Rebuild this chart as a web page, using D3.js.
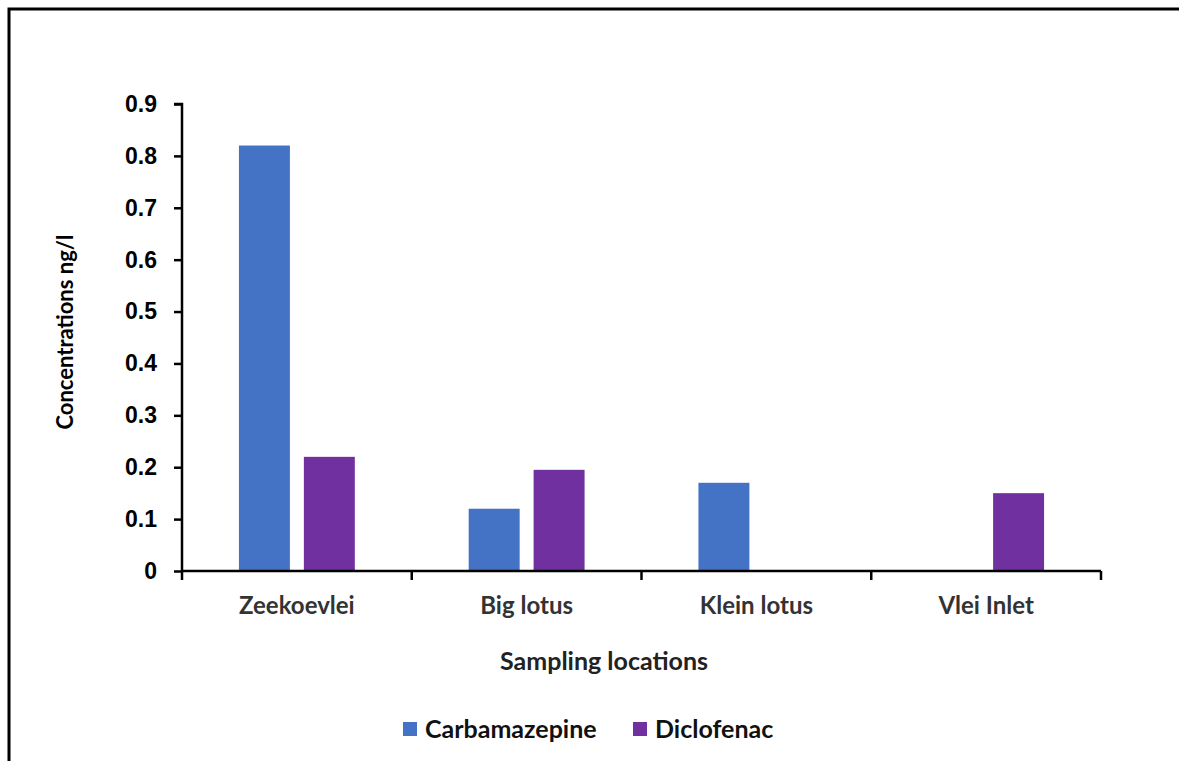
<!DOCTYPE html>
<html>
<head>
  <meta charset="utf-8">
  <title>Concentrations by sampling location</title>
  <style>
    body { margin: 0; padding: 0; background: #fff; font-family: Lato, "Open Sans", sans-serif; }
    #chart { width: 1179px; height: 761px; }
    .axis path, .axis line { stroke: #000; stroke-width: 2.5px; }
    .y-axis text { font-size: 23px; font-weight: bold; fill: #000; }
    .x-axis text { font-size: 24px; font-weight: bold; fill: #333; }
  </style>
</head>
<body>
  <div id="chart"></div>

  <script src="https://cdnjs.cloudflare.com/ajax/libs/d3/7.8.5/d3.min.js"></script>
  <script>
    // data
    var locations = ["Zeekoevlei", "Big lotus", "Klein lotus", "Vlei Inlet"];
    var seriesNames = ["Carbamazepine", "Diclofenac"];
    var carbamazepine = [0.82, 0.12, 0.17, 0];
    var diclofenac = [0.22, 0.195, 0, 0.15];
    var yTicks = [0, 0.1, 0.2, 0.3, 0.4, 0.5, 0.6, 0.7, 0.8, 0.9];
    var colors = ["#4472C4", "#7030A0"];

    var width = 1179, height = 761;
    var margin = { left: 182, right: 78, top: 104, bottom: 190 };

    var svg = d3.select("#chart").append("svg")
      .attr("width", width)
      .attr("height", height);

    // outer frame
    svg.append("rect")
      .attr("x", 9).attr("y", 9)
      .attr("width", width).attr("height", height)
      .attr("fill", "none")
      .attr("stroke", "#000")
      .attr("stroke-width", 3);

    var x = d3.scaleBand()
      .domain(locations)
      .range([margin.left, width - margin.right])
      .paddingInner(0).paddingOuter(0);

    var y = d3.scaleLinear()
      .domain([0, 0.9])
      .range([height - margin.bottom, margin.top]);

    // inner band for the two bars of each group
    var inner = d3.scaleBand()
      .domain(seriesNames)
      .range([0, x.bandwidth()])
      .paddingInner(0.215)
      .paddingOuter(0.877);

    var rows = locations.map(function(loc, i) {
      return { loc: loc, values: [carbamazepine[i], diclofenac[i]] };
    });

    var groups = svg.append("g").selectAll("g")
      .data(rows)
      .enter().append("g")
      .attr("transform", function(d) { return "translate(" + x(d.loc) + ",0)"; });

    groups.selectAll("rect")
      .data(function(d) {
        return d.values.map(function(v, j) { return { name: seriesNames[j], value: v, j: j }; });
      })
      .enter().append("rect")
      .filter(function(d) { return d.value > 0; })
      .attr("x", function(d) { return inner(d.name); })
      .attr("width", inner.bandwidth())
      .attr("y", function(d) { return y(d.value); })
      .attr("height", function(d) { return y(0) - y(d.value); })
      .attr("fill", function(d) { return colors[d.j]; });

    // y axis
    var yAxis = d3.axisLeft(y)
      .tickValues(yTicks)
      .tickSize(8)
      .tickPadding(17)
      .tickFormat(function(d) { return d === 0 ? "0" : d3.format(".1f")(d); });

    svg.append("g")
      .attr("class", "axis y-axis")
      .attr("transform", "translate(" + margin.left + ",0)")
      .call(yAxis)
      .call(function(g) { g.select(".domain").attr("d", "M-8," + y(0.9) + "H0V" + y(0)); });

    // x axis: ticks between categories
    var bounds = locations.map(function(l) { return x(l); }).concat([x.range()[1]]);
    var xg = svg.append("g")
      .attr("class", "axis x-axis")
      .attr("transform", "translate(0," + y(0) + ")");

    xg.append("path")
      .attr("d", "M" + x.range()[0] + ",0H" + x.range()[1])
      .attr("stroke", "#000").attr("stroke-width", 2.5).attr("fill", "none");

    xg.selectAll("line.tk")
      .data(bounds)
      .enter().append("line")
      .attr("class", "tk")
      .attr("x1", function(d) { return d; }).attr("x2", function(d) { return d; })
      .attr("y1", 0).attr("y2", 9);

    xg.selectAll("text")
      .data(locations)
      .enter().append("text")
      .attr("x", function(d) { return x(d) + x.bandwidth() / 2; })
      .attr("y", 43)
      .attr("text-anchor", "middle")
      .text(function(d) { return d; });

    // axis titles
    svg.append("text")
      .attr("transform", "translate(73,332) rotate(-90)")
      .attr("text-anchor", "middle")
      .attr("font-size", 22)
      .attr("font-weight", "bold")
      .attr("fill", "#000")
      .text("Concentrations ng/l");

    svg.append("text")
      .attr("x", 604)
      .attr("y", 670)
      .attr("text-anchor", "middle")
      .attr("font-size", 25)
      .attr("font-weight", "bold")
      .attr("fill", "#222")
      .text("Sampling locations");

    // legend
    var legend = svg.append("g")
      .selectAll("g")
      .data(seriesNames)
      .enter().append("g")
      .attr("transform", function(d, i) { return "translate(" + (403 + i * 230) + ",722)"; });

    legend.append("rect")
      .attr("width", 14).attr("height", 14)
      .attr("fill", function(d, i) { return colors[i]; });

    legend.append("text")
      .attr("x", 22)
      .attr("y", 16)
      .attr("font-size", 25)
      .attr("font-weight", "bold")
      .attr("fill", "#111")
      .text(function(d) { return d; });
  </script>
</body>
</html>
